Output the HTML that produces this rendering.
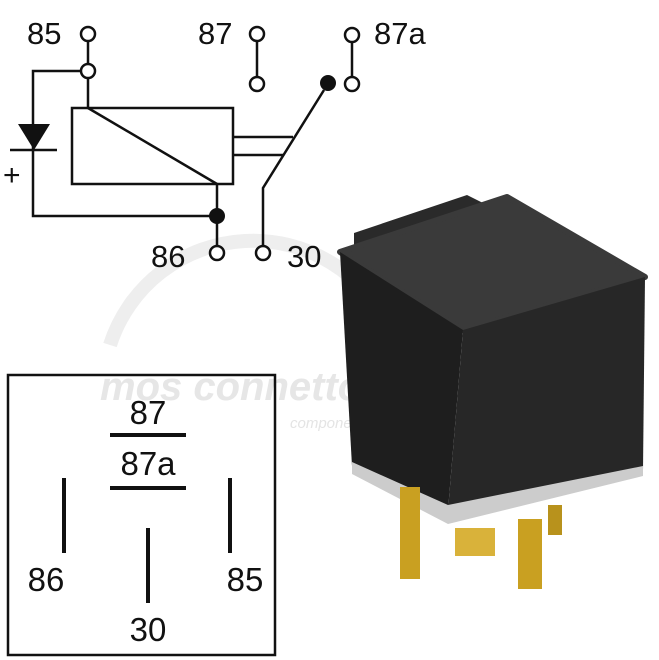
<!DOCTYPE html>
<html><head><style>body{margin:0;background:#fff}svg{display:block}</style></head><body>
<svg width="659" height="660" viewBox="0 0 659 660" xmlns="http://www.w3.org/2000/svg" font-family="Liberation Sans, sans-serif">
<!-- watermark -->
<path d="M110,345 A150,150 0 0 1 390,330" fill="none" stroke="#eee" stroke-width="14"/>
<text x="100" y="400" font-size="40" font-style="italic" font-weight="bold" fill="#e6e6e6">mos connettori</text>
<text x="290" y="428" font-size="15" font-style="italic" fill="#e4e4e4">componenti per il cablaggio</text>
<!-- relay -->
<polygon points="354,233 354,250 470,212 483,203 467,195" fill="#2a2a2a"/>
<polygon points="340,252 507,197 645,277 463,330" fill="#3a3a3a" stroke="#3a3a3a" stroke-width="6" stroke-linejoin="round"/>
<polygon points="340,252 463,330 448,510 352,466" fill="#1e1e1e"/>
<polygon points="463,330 645,277 643,470 448,510" fill="#272727"/>
<polygon points="352,462 448,505 643,466 643,476 448,524 352,474" fill="#ccc"/>
<rect x="400" y="487" width="20" height="92" fill="#c9a021"/>
<rect x="455" y="528" width="40" height="28" fill="#d9b23a"/>
<rect x="518" y="519" width="24" height="70" fill="#c9a021"/>
<rect x="548" y="505" width="14" height="30" fill="#b8921c"/>
<!-- schematic -->
<g stroke="#111" stroke-width="2.5" fill="none">
<line x1="88" y1="41" x2="88" y2="64"/>
<line x1="88" y1="78" x2="88" y2="108"/>
<polyline points="81,71 33,71 33,216 210,216"/>
<line x1="10" y1="150" x2="57" y2="150"/>
<rect x="72" y="108" width="161" height="76"/>
<line x1="88" y1="108" x2="217" y2="184"/>
<line x1="217" y1="184" x2="217" y2="246"/>
<line x1="257" y1="41" x2="257" y2="77"/>
<line x1="352" y1="42" x2="352" y2="77"/>
<line x1="233" y1="137" x2="293" y2="137"/>
<line x1="233" y1="155" x2="283" y2="155"/>
<polyline points="263,246 263,188 324,90"/>
<circle cx="88" cy="34" r="7" fill="#fff"/>
<circle cx="88" cy="71" r="7" fill="#fff"/>
<circle cx="257" cy="34" r="7" fill="#fff"/>
<circle cx="257" cy="84" r="7" fill="#fff"/>
<circle cx="352" cy="35" r="7" fill="#fff"/>
<circle cx="352" cy="84" r="7" fill="#fff"/>
<circle cx="217" cy="253" r="7" fill="#fff"/>
<circle cx="263" cy="253" r="7" fill="#fff"/>
</g>
<polygon points="18,124 50,124 34,150" fill="#111"/>
<circle cx="328" cy="83" r="8" fill="#111"/>
<circle cx="217" cy="216" r="8" fill="#111"/>
<text x="3" y="185" font-size="30" fill="#111">+</text>
<g font-size="31" fill="#111">
<text x="27" y="44">85</text>
<text x="198" y="44">87</text>
<text x="374" y="44">87a</text>
<text x="151" y="267">86</text>
<text x="287" y="267">30</text>
</g>
<!-- bottom box -->
<rect x="8" y="375" width="267" height="280" fill="none" stroke="#111" stroke-width="2.5"/>
<g stroke="#111" stroke-width="4">
<line x1="110" y1="435" x2="186" y2="435"/>
<line x1="110" y1="488" x2="186" y2="488"/>
<line x1="64" y1="478" x2="64" y2="553"/>
<line x1="230" y1="478" x2="230" y2="553"/>
<line x1="148" y1="528" x2="148" y2="603"/>
</g>
<g font-size="33" fill="#111" text-anchor="middle">
<text x="148" y="424">87</text>
<text x="148" y="475">87a</text>
<text x="46" y="591">86</text>
<text x="245" y="591">85</text>
<text x="148" y="641">30</text>
</g>
</svg>
</body></html>
